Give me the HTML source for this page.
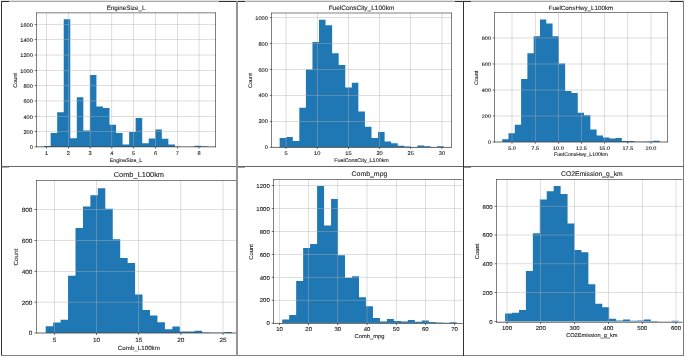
<!DOCTYPE html>
<html><head><meta charset="utf-8"><style>
html,body{margin:0;padding:0;background:#fff;}
svg{display:block;font-family:"Liberation Sans", sans-serif;text-rendering:geometricPrecision;}
</style></head><body>
<svg width="685" height="357" viewBox="0 0 685 357">
<rect width="685" height="357" fill="#fff"/>
<clipPath id="c0"><rect x="24.4" y="0" width="193.29999999999998" height="357"/></clipPath>
<g clip-path="url(#c0)"><path d="M44.10,146.90 L44.10,145.90 L50.64,145.90 L50.64,133.12 L57.18,133.12 L57.18,112.22 L63.72,112.22 L63.72,19.35 L70.26,19.35 L70.26,138.17 L76.80,138.17 L76.80,97.37 L83.34,97.37 L83.34,130.59 L89.88,130.59 L89.88,74.93 L96.42,74.93 L96.42,106.48 L102.96,106.48 L102.96,107.93 L109.50,107.93 L109.50,124.85 L116.04,124.85 L116.04,133.12 L122.58,133.12 L122.58,144.53 L129.12,144.53 L129.12,131.89 L135.66,131.89 L135.66,118.04 L142.20,118.04 L142.20,143.23 L148.74,143.23 L148.74,138.40 L155.28,138.40 L155.28,129.44 L161.82,129.44 L161.82,138.71 L168.36,138.71 L168.36,144.53 L174.90,144.53 L174.90,146.82 L181.44,146.82 L181.44,146.90 L187.98,146.90 L187.98,146.90 L194.52,146.90 L194.52,145.75 L201.06,145.75 L201.06,146.44 L207.60,146.44 L207.60,146.90 Z" fill="#1f77b4"/><rect x="36.40" y="146.69" width="179.30" height="0.42" fill="#b0b0b0"/><rect x="36.40" y="131.38" width="179.30" height="0.42" fill="#b0b0b0"/><rect x="36.40" y="116.07" width="179.30" height="0.42" fill="#b0b0b0"/><rect x="36.40" y="100.75" width="179.30" height="0.42" fill="#b0b0b0"/><rect x="36.40" y="85.44" width="179.30" height="0.42" fill="#b0b0b0"/><rect x="36.40" y="70.13" width="179.30" height="0.42" fill="#b0b0b0"/><rect x="36.40" y="54.82" width="179.30" height="0.42" fill="#b0b0b0"/><rect x="36.40" y="39.51" width="179.30" height="0.42" fill="#b0b0b0"/><rect x="36.40" y="24.19" width="179.30" height="0.42" fill="#b0b0b0"/><rect x="46.29" y="12.90" width="0.42" height="134.00" fill="#b0b0b0"/><rect x="68.08" y="12.90" width="0.42" height="134.00" fill="#b0b0b0"/><rect x="89.87" y="12.90" width="0.42" height="134.00" fill="#b0b0b0"/><rect x="111.66" y="12.90" width="0.42" height="134.00" fill="#b0b0b0"/><rect x="133.45" y="12.90" width="0.42" height="134.00" fill="#b0b0b0"/><rect x="155.24" y="12.90" width="0.42" height="134.00" fill="#b0b0b0"/><rect x="177.03" y="12.90" width="0.42" height="134.00" fill="#b0b0b0"/><rect x="198.82" y="12.90" width="0.42" height="134.00" fill="#b0b0b0"/><rect x="36.15" y="12.65" width="0.50" height="134.50" fill="#000"/><rect x="215.45" y="12.65" width="0.50" height="134.50" fill="#000"/><rect x="36.15" y="12.65" width="179.80" height="0.50" fill="#000"/><rect x="36.15" y="146.65" width="179.80" height="0.50" fill="#000"/><rect x="34.67" y="146.62" width="1.73" height="0.55" fill="#000"/><rect x="34.67" y="131.31" width="1.73" height="0.55" fill="#000"/><rect x="34.67" y="116.00" width="1.73" height="0.55" fill="#000"/><rect x="34.67" y="100.69" width="1.73" height="0.55" fill="#000"/><rect x="34.67" y="85.38" width="1.73" height="0.55" fill="#000"/><rect x="34.67" y="70.06" width="1.73" height="0.55" fill="#000"/><rect x="34.67" y="54.75" width="1.73" height="0.55" fill="#000"/><rect x="34.67" y="39.44" width="1.73" height="0.55" fill="#000"/><rect x="34.67" y="24.13" width="1.73" height="0.55" fill="#000"/><rect x="46.23" y="146.90" width="0.55" height="1.73" fill="#000"/><rect x="68.01" y="146.90" width="0.55" height="1.73" fill="#000"/><rect x="89.80" y="146.90" width="0.55" height="1.73" fill="#000"/><rect x="111.59" y="146.90" width="0.55" height="1.73" fill="#000"/><rect x="133.38" y="146.90" width="0.55" height="1.73" fill="#000"/><rect x="155.17" y="146.90" width="0.55" height="1.73" fill="#000"/><rect x="176.97" y="146.90" width="0.55" height="1.73" fill="#000"/><rect x="198.75" y="146.90" width="0.55" height="1.73" fill="#000"/></g>
<g fill="#1a1a1a" stroke="#1a1a1a" stroke-width="0.1" style="filter:grayscale(1)"><text x="32.89" y="149.13" text-anchor="end" font-size="5.24" textLength="3.15" lengthAdjust="spacingAndGlyphs">0</text><text x="32.89" y="133.82" text-anchor="end" font-size="5.24" textLength="9.44" lengthAdjust="spacingAndGlyphs">200</text><text x="32.89" y="118.51" text-anchor="end" font-size="5.24" textLength="9.44" lengthAdjust="spacingAndGlyphs">400</text><text x="32.89" y="103.19" text-anchor="end" font-size="5.24" textLength="9.44" lengthAdjust="spacingAndGlyphs">600</text><text x="32.89" y="87.88" text-anchor="end" font-size="5.24" textLength="9.44" lengthAdjust="spacingAndGlyphs">800</text><text x="32.89" y="72.57" text-anchor="end" font-size="5.24" textLength="12.59" lengthAdjust="spacingAndGlyphs">1000</text><text x="32.89" y="57.26" text-anchor="end" font-size="5.24" textLength="12.59" lengthAdjust="spacingAndGlyphs">1200</text><text x="32.89" y="41.95" text-anchor="end" font-size="5.24" textLength="12.59" lengthAdjust="spacingAndGlyphs">1400</text><text x="32.89" y="26.63" text-anchor="end" font-size="5.24" textLength="12.59" lengthAdjust="spacingAndGlyphs">1600</text><text x="46.50" y="154.81" text-anchor="middle" font-size="5.24" textLength="3.15" lengthAdjust="spacingAndGlyphs">1</text><text x="68.29" y="154.81" text-anchor="middle" font-size="5.24" textLength="3.15" lengthAdjust="spacingAndGlyphs">2</text><text x="90.08" y="154.81" text-anchor="middle" font-size="5.24" textLength="3.15" lengthAdjust="spacingAndGlyphs">3</text><text x="111.87" y="154.81" text-anchor="middle" font-size="5.24" textLength="3.15" lengthAdjust="spacingAndGlyphs">4</text><text x="133.66" y="154.81" text-anchor="middle" font-size="5.24" textLength="3.15" lengthAdjust="spacingAndGlyphs">5</text><text x="155.45" y="154.81" text-anchor="middle" font-size="5.24" textLength="3.15" lengthAdjust="spacingAndGlyphs">6</text><text x="177.24" y="154.81" text-anchor="middle" font-size="5.24" textLength="3.15" lengthAdjust="spacingAndGlyphs">7</text><text x="199.03" y="154.81" text-anchor="middle" font-size="5.24" textLength="3.15" lengthAdjust="spacingAndGlyphs">8</text><text x="126.05" y="161.59" text-anchor="middle" font-size="5.24" textLength="32.33" lengthAdjust="spacingAndGlyphs">EngineSize_L</text><text x="126.05" y="10.23" text-anchor="middle" font-size="6.29" textLength="38.80" lengthAdjust="spacingAndGlyphs">EngineSize_L</text><g transform="translate(16.71,80.45) rotate(-90)"><text x="0.00" y="0.00" text-anchor="middle" font-size="5.24" textLength="14.69" lengthAdjust="spacingAndGlyphs">Count</text></g></g>
<clipPath id="c1"><rect x="259.5" y="0" width="194.0" height="357"/></clipPath>
<g clip-path="url(#c1)"><path d="M279.65,147.20 L279.65,137.98 L286.21,137.98 L286.21,137.07 L292.77,137.07 L292.77,140.96 L299.33,140.96 L299.33,107.84 L305.89,107.84 L305.89,69.52 L312.45,69.52 L312.45,42.11 L319.01,42.11 L319.01,19.64 L325.57,19.64 L325.57,25.22 L332.13,25.22 L332.13,53.28 L338.69,53.28 L338.69,65.10 L345.25,65.10 L345.25,87.45 L351.81,87.45 L351.81,82.64 L358.37,82.64 L358.37,111.61 L364.93,111.61 L364.93,126.81 L371.49,126.81 L371.49,137.98 L378.05,137.98 L378.05,132.00 L384.61,132.00 L384.61,141.48 L391.17,141.48 L391.17,143.30 L397.73,143.30 L397.73,145.77 L404.29,145.77 L404.29,146.55 L410.85,146.55 L410.85,147.07 L417.41,147.07 L417.41,145.51 L423.97,145.51 L423.97,146.16 L430.53,146.16 L430.53,147.07 L437.09,147.07 L437.09,146.29 L443.65,146.29 L443.65,147.20 Z" fill="#1f77b4"/><rect x="271.50" y="146.99" width="180.00" height="0.42" fill="#b0b0b0"/><rect x="271.50" y="121.01" width="180.00" height="0.42" fill="#b0b0b0"/><rect x="271.50" y="95.03" width="180.00" height="0.42" fill="#b0b0b0"/><rect x="271.50" y="69.05" width="180.00" height="0.42" fill="#b0b0b0"/><rect x="271.50" y="43.07" width="180.00" height="0.42" fill="#b0b0b0"/><rect x="271.50" y="17.09" width="180.00" height="0.42" fill="#b0b0b0"/><rect x="285.79" y="13.00" width="0.42" height="134.20" fill="#b0b0b0"/><rect x="316.99" y="13.00" width="0.42" height="134.20" fill="#b0b0b0"/><rect x="348.19" y="13.00" width="0.42" height="134.20" fill="#b0b0b0"/><rect x="379.39" y="13.00" width="0.42" height="134.20" fill="#b0b0b0"/><rect x="410.59" y="13.00" width="0.42" height="134.20" fill="#b0b0b0"/><rect x="441.79" y="13.00" width="0.42" height="134.20" fill="#b0b0b0"/><rect x="271.25" y="12.75" width="0.50" height="134.70" fill="#000"/><rect x="451.25" y="12.75" width="0.50" height="134.70" fill="#000"/><rect x="271.25" y="12.75" width="180.50" height="0.50" fill="#000"/><rect x="271.25" y="146.95" width="180.50" height="0.50" fill="#000"/><rect x="269.76" y="146.92" width="1.74" height="0.55" fill="#000"/><rect x="269.76" y="120.94" width="1.74" height="0.55" fill="#000"/><rect x="269.76" y="94.96" width="1.74" height="0.55" fill="#000"/><rect x="269.76" y="68.98" width="1.74" height="0.55" fill="#000"/><rect x="269.76" y="43.01" width="1.74" height="0.55" fill="#000"/><rect x="269.76" y="17.03" width="1.74" height="0.55" fill="#000"/><rect x="285.73" y="147.20" width="0.55" height="1.74" fill="#000"/><rect x="316.93" y="147.20" width="0.55" height="1.74" fill="#000"/><rect x="348.12" y="147.20" width="0.55" height="1.74" fill="#000"/><rect x="379.33" y="147.20" width="0.55" height="1.74" fill="#000"/><rect x="410.53" y="147.20" width="0.55" height="1.74" fill="#000"/><rect x="441.73" y="147.20" width="0.55" height="1.74" fill="#000"/></g>
<g fill="#1a1a1a" stroke="#1a1a1a" stroke-width="0.1" style="filter:grayscale(1)"><text x="267.96" y="149.44" text-anchor="end" font-size="5.28" textLength="3.17" lengthAdjust="spacingAndGlyphs">0</text><text x="267.96" y="123.46" text-anchor="end" font-size="5.28" textLength="9.51" lengthAdjust="spacingAndGlyphs">200</text><text x="267.96" y="97.48" text-anchor="end" font-size="5.28" textLength="9.51" lengthAdjust="spacingAndGlyphs">400</text><text x="267.96" y="71.50" text-anchor="end" font-size="5.28" textLength="9.51" lengthAdjust="spacingAndGlyphs">600</text><text x="267.96" y="45.52" text-anchor="end" font-size="5.28" textLength="9.51" lengthAdjust="spacingAndGlyphs">800</text><text x="267.96" y="19.54" text-anchor="end" font-size="5.28" textLength="12.68" lengthAdjust="spacingAndGlyphs">1000</text><text x="286.00" y="155.17" text-anchor="middle" font-size="5.28" textLength="3.17" lengthAdjust="spacingAndGlyphs">5</text><text x="317.20" y="155.17" text-anchor="middle" font-size="5.28" textLength="6.34" lengthAdjust="spacingAndGlyphs">10</text><text x="348.40" y="155.17" text-anchor="middle" font-size="5.28" textLength="6.34" lengthAdjust="spacingAndGlyphs">15</text><text x="379.60" y="155.17" text-anchor="middle" font-size="5.28" textLength="6.34" lengthAdjust="spacingAndGlyphs">20</text><text x="410.80" y="155.17" text-anchor="middle" font-size="5.28" textLength="6.34" lengthAdjust="spacingAndGlyphs">25</text><text x="442.00" y="155.17" text-anchor="middle" font-size="5.28" textLength="6.34" lengthAdjust="spacingAndGlyphs">30</text><text x="361.50" y="161.99" text-anchor="middle" font-size="5.28" textLength="54.75" lengthAdjust="spacingAndGlyphs">FuelConsCity_L100km</text><text x="361.50" y="10.31" text-anchor="middle" font-size="6.34" textLength="65.70" lengthAdjust="spacingAndGlyphs">FuelConsCity_L100km</text><g transform="translate(251.68,80.65) rotate(-90)"><text x="0.00" y="0.00" text-anchor="middle" font-size="5.28" textLength="14.79" lengthAdjust="spacingAndGlyphs">Count</text></g></g>
<clipPath id="c2"><rect x="482.4" y="0" width="187.10000000000002" height="357"/></clipPath>
<g clip-path="url(#c2)"><path d="M502.20,142.00 L502.20,139.14 L508.50,139.14 L508.50,133.29 L514.79,133.29 L514.79,124.71 L521.09,124.71 L521.09,78.95 L527.38,78.95 L527.38,53.34 L533.68,53.34 L533.68,36.18 L539.98,36.18 L539.98,19.54 L546.27,19.54 L546.27,23.57 L552.57,23.57 L552.57,36.18 L558.86,36.18 L558.86,63.61 L565.16,63.61 L565.16,90.91 L571.46,90.91 L571.46,93.12 L577.75,93.12 L577.75,112.75 L584.05,112.75 L584.05,115.35 L590.34,115.35 L590.34,129.52 L596.64,129.52 L596.64,135.50 L602.94,135.50 L602.94,137.45 L609.23,137.45 L609.23,138.62 L615.53,138.62 L615.53,137.97 L621.82,137.97 L621.82,141.09 L628.12,141.09 L628.12,141.09 L634.42,141.09 L634.42,141.74 L640.71,141.74 L640.71,141.87 L647.01,141.87 L647.01,141.61 L653.30,141.61 L653.30,140.83 L659.60,140.83 L659.60,142.00 Z" fill="#1f77b4"/><rect x="494.40" y="141.79" width="173.10" height="0.42" fill="#b0b0b0"/><rect x="494.40" y="115.79" width="173.10" height="0.42" fill="#b0b0b0"/><rect x="494.40" y="89.79" width="173.10" height="0.42" fill="#b0b0b0"/><rect x="494.40" y="63.79" width="173.10" height="0.42" fill="#b0b0b0"/><rect x="494.40" y="37.79" width="173.10" height="0.42" fill="#b0b0b0"/><rect x="511.79" y="12.60" width="0.42" height="129.40" fill="#b0b0b0"/><rect x="534.96" y="12.60" width="0.42" height="129.40" fill="#b0b0b0"/><rect x="558.12" y="12.60" width="0.42" height="129.40" fill="#b0b0b0"/><rect x="581.29" y="12.60" width="0.42" height="129.40" fill="#b0b0b0"/><rect x="604.46" y="12.60" width="0.42" height="129.40" fill="#b0b0b0"/><rect x="627.63" y="12.60" width="0.42" height="129.40" fill="#b0b0b0"/><rect x="650.79" y="12.60" width="0.42" height="129.40" fill="#b0b0b0"/><rect x="494.15" y="12.35" width="0.50" height="129.90" fill="#000"/><rect x="667.25" y="12.35" width="0.50" height="129.90" fill="#000"/><rect x="494.15" y="12.35" width="173.60" height="0.50" fill="#000"/><rect x="494.15" y="141.75" width="173.60" height="0.50" fill="#000"/><rect x="492.71" y="141.72" width="1.69" height="0.55" fill="#000"/><rect x="492.71" y="115.72" width="1.69" height="0.55" fill="#000"/><rect x="492.71" y="89.72" width="1.69" height="0.55" fill="#000"/><rect x="492.71" y="63.73" width="1.69" height="0.55" fill="#000"/><rect x="492.71" y="37.73" width="1.69" height="0.55" fill="#000"/><rect x="511.73" y="142.00" width="0.55" height="1.69" fill="#000"/><rect x="534.89" y="142.00" width="0.55" height="1.69" fill="#000"/><rect x="558.06" y="142.00" width="0.55" height="1.69" fill="#000"/><rect x="581.23" y="142.00" width="0.55" height="1.69" fill="#000"/><rect x="604.39" y="142.00" width="0.55" height="1.69" fill="#000"/><rect x="627.56" y="142.00" width="0.55" height="1.69" fill="#000"/><rect x="650.73" y="142.00" width="0.55" height="1.69" fill="#000"/></g>
<g fill="#1a1a1a" stroke="#1a1a1a" stroke-width="0.1" style="filter:grayscale(1)"><text x="490.98" y="144.18" text-anchor="end" font-size="5.11" textLength="3.06" lengthAdjust="spacingAndGlyphs">0</text><text x="490.98" y="118.18" text-anchor="end" font-size="5.11" textLength="9.19" lengthAdjust="spacingAndGlyphs">200</text><text x="490.98" y="92.18" text-anchor="end" font-size="5.11" textLength="9.19" lengthAdjust="spacingAndGlyphs">400</text><text x="490.98" y="66.18" text-anchor="end" font-size="5.11" textLength="9.19" lengthAdjust="spacingAndGlyphs">600</text><text x="490.98" y="40.18" text-anchor="end" font-size="5.11" textLength="9.19" lengthAdjust="spacingAndGlyphs">800</text><text x="512.00" y="149.71" text-anchor="middle" font-size="5.11" textLength="7.66" lengthAdjust="spacingAndGlyphs">5.0</text><text x="535.17" y="149.71" text-anchor="middle" font-size="5.11" textLength="7.66" lengthAdjust="spacingAndGlyphs">7.5</text><text x="558.34" y="149.71" text-anchor="middle" font-size="5.11" textLength="10.73" lengthAdjust="spacingAndGlyphs">10.0</text><text x="581.50" y="149.71" text-anchor="middle" font-size="5.11" textLength="10.73" lengthAdjust="spacingAndGlyphs">12.5</text><text x="604.67" y="149.71" text-anchor="middle" font-size="5.11" textLength="10.73" lengthAdjust="spacingAndGlyphs">15.0</text><text x="627.84" y="149.71" text-anchor="middle" font-size="5.11" textLength="10.73" lengthAdjust="spacingAndGlyphs">17.5</text><text x="651.00" y="149.71" text-anchor="middle" font-size="5.11" textLength="10.73" lengthAdjust="spacingAndGlyphs">20.0</text><text x="580.95" y="156.31" text-anchor="middle" font-size="5.11" textLength="53.92" lengthAdjust="spacingAndGlyphs">FuelConsHwy_L100km</text><text x="580.95" y="10.00" text-anchor="middle" font-size="6.13" textLength="64.70" lengthAdjust="spacingAndGlyphs">FuelConsHwy_L100km</text><g transform="translate(478.31,77.85) rotate(-90)"><text x="0.00" y="0.00" text-anchor="middle" font-size="5.11" textLength="14.31" lengthAdjust="spacingAndGlyphs">Count</text></g></g>
<clipPath id="c3"><rect x="24.450000000000003" y="0" width="211.55" height="357"/></clipPath>
<g clip-path="url(#c3)"><path d="M45.70,333.00 L45.70,326.36 L53.15,326.36 L53.15,322.49 L60.60,322.49 L60.60,319.71 L68.05,319.71 L68.05,275.83 L75.50,275.83 L75.50,227.94 L82.95,227.94 L82.95,206.46 L90.40,206.46 L90.40,195.34 L97.85,195.34 L97.85,188.23 L105.30,188.23 L105.30,208.63 L112.75,208.63 L112.75,239.22 L120.20,239.22 L120.20,258.07 L127.65,258.07 L127.65,263.01 L135.10,263.01 L135.10,294.38 L142.55,294.38 L142.55,309.98 L150.00,309.98 L150.00,315.39 L157.45,315.39 L157.45,322.19 L164.90,322.19 L164.90,329.14 L172.35,329.14 L172.35,326.51 L179.80,326.51 L179.80,331.61 L187.25,331.61 L187.25,331.61 L194.70,331.61 L194.70,330.84 L202.15,330.84 L202.15,332.38 L209.60,332.38 L209.60,332.85 L217.05,332.85 L217.05,332.85 L224.50,332.85 L224.50,331.92 L231.95,331.92 L231.95,333.00 Z" fill="#1f77b4"/><rect x="36.45" y="332.79" width="204.85" height="0.42" fill="#b0b0b0"/><rect x="36.45" y="301.89" width="204.85" height="0.42" fill="#b0b0b0"/><rect x="36.45" y="270.99" width="204.85" height="0.42" fill="#b0b0b0"/><rect x="36.45" y="240.09" width="204.85" height="0.42" fill="#b0b0b0"/><rect x="36.45" y="209.19" width="204.85" height="0.42" fill="#b0b0b0"/><rect x="54.29" y="180.40" width="0.42" height="152.60" fill="#b0b0b0"/><rect x="96.42" y="180.40" width="0.42" height="152.60" fill="#b0b0b0"/><rect x="138.54" y="180.40" width="0.42" height="152.60" fill="#b0b0b0"/><rect x="180.66" y="180.40" width="0.42" height="152.60" fill="#b0b0b0"/><rect x="222.79" y="180.40" width="0.42" height="152.60" fill="#b0b0b0"/><rect x="36.20" y="180.15" width="0.50" height="153.10" fill="#000"/><rect x="241.05" y="180.15" width="0.50" height="153.10" fill="#000"/><rect x="36.20" y="180.15" width="205.35" height="0.50" fill="#000"/><rect x="36.20" y="332.75" width="205.35" height="0.50" fill="#000"/><rect x="34.47" y="332.73" width="1.98" height="0.55" fill="#000"/><rect x="34.47" y="301.83" width="1.98" height="0.55" fill="#000"/><rect x="34.47" y="270.93" width="1.98" height="0.55" fill="#000"/><rect x="34.47" y="240.03" width="1.98" height="0.55" fill="#000"/><rect x="34.47" y="209.12" width="1.98" height="0.55" fill="#000"/><rect x="54.23" y="333.00" width="0.55" height="1.98" fill="#000"/><rect x="96.35" y="333.00" width="0.55" height="1.98" fill="#000"/><rect x="138.47" y="333.00" width="0.55" height="1.98" fill="#000"/><rect x="180.60" y="333.00" width="0.55" height="1.98" fill="#000"/><rect x="222.72" y="333.00" width="0.55" height="1.98" fill="#000"/></g>
<g fill="#1a1a1a" stroke="#1a1a1a" stroke-width="0.1" style="filter:grayscale(1)"><text x="32.44" y="335.48" text-anchor="end" font-size="5.99" textLength="3.59" lengthAdjust="spacingAndGlyphs">0</text><text x="32.44" y="304.58" text-anchor="end" font-size="5.99" textLength="10.78" lengthAdjust="spacingAndGlyphs">200</text><text x="32.44" y="273.68" text-anchor="end" font-size="5.99" textLength="10.78" lengthAdjust="spacingAndGlyphs">400</text><text x="32.44" y="242.78" text-anchor="end" font-size="5.99" textLength="10.78" lengthAdjust="spacingAndGlyphs">600</text><text x="32.44" y="211.88" text-anchor="end" font-size="5.99" textLength="10.78" lengthAdjust="spacingAndGlyphs">800</text><text x="54.50" y="342.04" text-anchor="middle" font-size="5.99" textLength="3.59" lengthAdjust="spacingAndGlyphs">5</text><text x="96.62" y="342.04" text-anchor="middle" font-size="5.99" textLength="7.19" lengthAdjust="spacingAndGlyphs">10</text><text x="138.75" y="342.04" text-anchor="middle" font-size="5.99" textLength="7.19" lengthAdjust="spacingAndGlyphs">15</text><text x="180.88" y="342.04" text-anchor="middle" font-size="5.99" textLength="7.19" lengthAdjust="spacingAndGlyphs">20</text><text x="223.00" y="342.04" text-anchor="middle" font-size="5.99" textLength="7.19" lengthAdjust="spacingAndGlyphs">25</text><text x="138.88" y="349.77" text-anchor="middle" font-size="5.99" textLength="42.00" lengthAdjust="spacingAndGlyphs">Comb_L100km</text><text x="138.88" y="176.75" text-anchor="middle" font-size="7.18" textLength="50.40" lengthAdjust="spacingAndGlyphs">Comb_L100km</text><g transform="translate(17.59,257.25) rotate(-90)"><text x="0.00" y="0.00" text-anchor="middle" font-size="5.99" textLength="16.77" lengthAdjust="spacingAndGlyphs">Count</text></g></g>
<clipPath id="c4"><rect x="261.5" y="0" width="201.0" height="357"/></clipPath>
<g clip-path="url(#c4)"><path d="M282.20,323.10 L282.20,319.54 L289.18,319.54 L289.18,314.95 L296.16,314.95 L296.16,281.08 L303.14,281.08 L303.14,247.91 L310.12,247.91 L310.12,244.00 L317.10,244.00 L317.10,185.91 L324.08,185.91 L324.08,225.41 L331.06,225.41 L331.06,199.12 L338.04,199.12 L338.04,255.14 L345.02,255.14 L345.02,277.75 L352.00,277.75 L352.00,276.26 L358.98,276.26 L358.98,297.27 L365.96,297.27 L365.96,306.22 L372.94,306.22 L372.94,317.93 L379.92,317.93 L379.92,321.38 L386.90,321.38 L386.90,318.97 L393.88,318.97 L393.88,320.92 L400.86,320.92 L400.86,321.61 L407.84,321.61 L407.84,320.12 L414.82,320.12 L414.82,321.84 L421.80,321.84 L421.80,320.57 L428.78,320.57 L428.78,322.07 L435.76,322.07 L435.76,322.53 L442.74,322.53 L442.74,322.64 L449.72,322.64 L449.72,322.18 L456.70,322.18 L456.70,323.10 Z" fill="#1f77b4"/><rect x="273.50" y="322.89" width="191.90" height="0.42" fill="#b0b0b0"/><rect x="273.50" y="299.93" width="191.90" height="0.42" fill="#b0b0b0"/><rect x="273.50" y="276.97" width="191.90" height="0.42" fill="#b0b0b0"/><rect x="273.50" y="254.01" width="191.90" height="0.42" fill="#b0b0b0"/><rect x="273.50" y="231.05" width="191.90" height="0.42" fill="#b0b0b0"/><rect x="273.50" y="208.09" width="191.90" height="0.42" fill="#b0b0b0"/><rect x="273.50" y="185.13" width="191.90" height="0.42" fill="#b0b0b0"/><rect x="279.29" y="179.50" width="0.42" height="143.80" fill="#b0b0b0"/><rect x="308.46" y="179.50" width="0.42" height="143.80" fill="#b0b0b0"/><rect x="337.63" y="179.50" width="0.42" height="143.80" fill="#b0b0b0"/><rect x="366.80" y="179.50" width="0.42" height="143.80" fill="#b0b0b0"/><rect x="395.97" y="179.50" width="0.42" height="143.80" fill="#b0b0b0"/><rect x="425.14" y="179.50" width="0.42" height="143.80" fill="#b0b0b0"/><rect x="454.31" y="179.50" width="0.42" height="143.80" fill="#b0b0b0"/><rect x="273.25" y="179.25" width="0.50" height="144.30" fill="#000"/><rect x="465.15" y="179.25" width="0.50" height="144.30" fill="#000"/><rect x="273.25" y="179.25" width="192.40" height="0.50" fill="#000"/><rect x="273.25" y="323.05" width="192.40" height="0.50" fill="#000"/><rect x="271.66" y="322.83" width="1.84" height="0.55" fill="#000"/><rect x="271.66" y="299.87" width="1.84" height="0.55" fill="#000"/><rect x="271.66" y="276.91" width="1.84" height="0.55" fill="#000"/><rect x="271.66" y="253.95" width="1.84" height="0.55" fill="#000"/><rect x="271.66" y="230.99" width="1.84" height="0.55" fill="#000"/><rect x="271.66" y="208.03" width="1.84" height="0.55" fill="#000"/><rect x="271.66" y="185.07" width="1.84" height="0.55" fill="#000"/><rect x="279.23" y="323.30" width="0.55" height="1.84" fill="#000"/><rect x="308.40" y="323.30" width="0.55" height="1.84" fill="#000"/><rect x="337.56" y="323.30" width="0.55" height="1.84" fill="#000"/><rect x="366.74" y="323.30" width="0.55" height="1.84" fill="#000"/><rect x="395.91" y="323.30" width="0.55" height="1.84" fill="#000"/><rect x="425.08" y="323.30" width="0.55" height="1.84" fill="#000"/><rect x="454.25" y="323.30" width="0.55" height="1.84" fill="#000"/></g>
<g fill="#1a1a1a" stroke="#1a1a1a" stroke-width="0.1" style="filter:grayscale(1)"><text x="269.76" y="325.45" text-anchor="end" font-size="5.58" textLength="3.35" lengthAdjust="spacingAndGlyphs">0</text><text x="269.76" y="302.49" text-anchor="end" font-size="5.58" textLength="10.06" lengthAdjust="spacingAndGlyphs">200</text><text x="269.76" y="279.53" text-anchor="end" font-size="5.58" textLength="10.06" lengthAdjust="spacingAndGlyphs">400</text><text x="269.76" y="256.57" text-anchor="end" font-size="5.58" textLength="10.06" lengthAdjust="spacingAndGlyphs">600</text><text x="269.76" y="233.61" text-anchor="end" font-size="5.58" textLength="10.06" lengthAdjust="spacingAndGlyphs">800</text><text x="269.76" y="210.65" text-anchor="end" font-size="5.58" textLength="13.41" lengthAdjust="spacingAndGlyphs">1000</text><text x="269.76" y="187.69" text-anchor="end" font-size="5.58" textLength="13.41" lengthAdjust="spacingAndGlyphs">1200</text><text x="279.50" y="331.03" text-anchor="middle" font-size="5.58" textLength="6.70" lengthAdjust="spacingAndGlyphs">10</text><text x="308.67" y="331.03" text-anchor="middle" font-size="5.58" textLength="6.70" lengthAdjust="spacingAndGlyphs">20</text><text x="337.84" y="331.03" text-anchor="middle" font-size="5.58" textLength="6.70" lengthAdjust="spacingAndGlyphs">30</text><text x="367.01" y="331.03" text-anchor="middle" font-size="5.58" textLength="6.70" lengthAdjust="spacingAndGlyphs">40</text><text x="396.18" y="331.03" text-anchor="middle" font-size="5.58" textLength="6.70" lengthAdjust="spacingAndGlyphs">50</text><text x="425.35" y="331.03" text-anchor="middle" font-size="5.58" textLength="6.70" lengthAdjust="spacingAndGlyphs">60</text><text x="454.52" y="331.03" text-anchor="middle" font-size="5.58" textLength="6.70" lengthAdjust="spacingAndGlyphs">70</text><text x="369.45" y="338.25" text-anchor="middle" font-size="5.58" textLength="29.83" lengthAdjust="spacingAndGlyphs">Comb_mpg</text><text x="369.45" y="175.86" text-anchor="middle" font-size="6.70" textLength="35.80" lengthAdjust="spacingAndGlyphs">Comb_mpg</text><g transform="translate(252.53,251.95) rotate(-90)"><text x="0.00" y="0.00" text-anchor="middle" font-size="5.58" textLength="15.64" lengthAdjust="spacingAndGlyphs">Count</text></g></g>
<clipPath id="c5"><rect x="484.4" y="0" width="198.10000000000002" height="357"/></clipPath>
<g clip-path="url(#c5)"><path d="M505.10,321.60 L505.10,313.52 L512.04,313.52 L512.04,312.80 L518.98,312.80 L518.98,310.06 L525.92,310.06 L525.92,271.10 L532.86,271.10 L532.86,233.29 L539.80,233.29 L539.80,199.52 L546.74,199.52 L546.74,191.30 L553.68,191.30 L553.68,185.96 L560.62,185.96 L560.62,194.04 L567.56,194.04 L567.56,223.48 L574.50,223.48 L574.50,250.03 L581.44,250.03 L581.44,252.19 L588.38,252.19 L588.38,284.23 L595.32,284.23 L595.32,303.71 L602.26,303.71 L602.26,307.17 L609.20,307.17 L609.20,318.86 L616.14,318.86 L616.14,320.59 L623.08,320.59 L623.08,319.44 L630.02,319.44 L630.02,320.73 L636.96,320.73 L636.96,320.59 L643.90,320.59 L643.90,319.44 L650.84,319.44 L650.84,320.88 L657.78,320.88 L657.78,321.60 L664.72,321.60 L664.72,321.46 L671.66,321.46 L671.66,320.73 L678.60,320.73 L678.60,321.60 Z" fill="#1f77b4"/><rect x="496.40" y="321.39" width="190.90" height="0.42" fill="#b0b0b0"/><rect x="496.40" y="292.53" width="190.90" height="0.42" fill="#b0b0b0"/><rect x="496.40" y="263.67" width="190.90" height="0.42" fill="#b0b0b0"/><rect x="496.40" y="234.81" width="190.90" height="0.42" fill="#b0b0b0"/><rect x="496.40" y="205.95" width="190.90" height="0.42" fill="#b0b0b0"/><rect x="506.79" y="179.40" width="0.42" height="142.80" fill="#b0b0b0"/><rect x="540.59" y="179.40" width="0.42" height="142.80" fill="#b0b0b0"/><rect x="574.39" y="179.40" width="0.42" height="142.80" fill="#b0b0b0"/><rect x="608.19" y="179.40" width="0.42" height="142.80" fill="#b0b0b0"/><rect x="641.99" y="179.40" width="0.42" height="142.80" fill="#b0b0b0"/><rect x="675.79" y="179.40" width="0.42" height="142.80" fill="#b0b0b0"/><rect x="496.15" y="179.15" width="0.50" height="143.30" fill="#000"/><rect x="687.05" y="179.15" width="0.50" height="143.30" fill="#000"/><rect x="496.15" y="179.15" width="191.40" height="0.50" fill="#000"/><rect x="496.15" y="321.95" width="191.40" height="0.50" fill="#000"/><rect x="494.56" y="321.33" width="1.84" height="0.55" fill="#000"/><rect x="494.56" y="292.47" width="1.84" height="0.55" fill="#000"/><rect x="494.56" y="263.61" width="1.84" height="0.55" fill="#000"/><rect x="494.56" y="234.75" width="1.84" height="0.55" fill="#000"/><rect x="494.56" y="205.89" width="1.84" height="0.55" fill="#000"/><rect x="506.73" y="322.20" width="0.55" height="1.84" fill="#000"/><rect x="540.52" y="322.20" width="0.55" height="1.84" fill="#000"/><rect x="574.33" y="322.20" width="0.55" height="1.84" fill="#000"/><rect x="608.12" y="322.20" width="0.55" height="1.84" fill="#000"/><rect x="641.93" y="322.20" width="0.55" height="1.84" fill="#000"/><rect x="675.73" y="322.20" width="0.55" height="1.84" fill="#000"/></g>
<g fill="#1a1a1a" stroke="#1a1a1a" stroke-width="0.1" style="filter:grayscale(1)"><text x="492.67" y="323.94" text-anchor="end" font-size="5.58" textLength="3.35" lengthAdjust="spacingAndGlyphs">0</text><text x="492.67" y="295.08" text-anchor="end" font-size="5.58" textLength="10.04" lengthAdjust="spacingAndGlyphs">200</text><text x="492.67" y="266.22" text-anchor="end" font-size="5.58" textLength="10.04" lengthAdjust="spacingAndGlyphs">400</text><text x="492.67" y="237.36" text-anchor="end" font-size="5.58" textLength="10.04" lengthAdjust="spacingAndGlyphs">600</text><text x="492.67" y="208.50" text-anchor="end" font-size="5.58" textLength="10.04" lengthAdjust="spacingAndGlyphs">800</text><text x="507.00" y="329.92" text-anchor="middle" font-size="5.58" textLength="10.04" lengthAdjust="spacingAndGlyphs">100</text><text x="540.80" y="329.92" text-anchor="middle" font-size="5.58" textLength="10.04" lengthAdjust="spacingAndGlyphs">200</text><text x="574.60" y="329.92" text-anchor="middle" font-size="5.58" textLength="10.04" lengthAdjust="spacingAndGlyphs">300</text><text x="608.40" y="329.92" text-anchor="middle" font-size="5.58" textLength="10.04" lengthAdjust="spacingAndGlyphs">400</text><text x="642.20" y="329.92" text-anchor="middle" font-size="5.58" textLength="10.04" lengthAdjust="spacingAndGlyphs">500</text><text x="676.00" y="329.92" text-anchor="middle" font-size="5.58" textLength="10.04" lengthAdjust="spacingAndGlyphs">600</text><text x="591.85" y="337.12" text-anchor="middle" font-size="5.58" textLength="51.33" lengthAdjust="spacingAndGlyphs">CO2Emission_g_km</text><text x="591.85" y="175.86" text-anchor="middle" font-size="6.69" textLength="61.60" lengthAdjust="spacingAndGlyphs">CO2Emission_g_km</text><g transform="translate(478.83,251.35) rotate(-90)"><text x="0.00" y="0.00" text-anchor="middle" font-size="5.58" textLength="15.62" lengthAdjust="spacingAndGlyphs">Count</text></g></g>
<rect x="1" y="0" width="684" height="1" fill="#e4e4e4"/>
<rect x="1" y="1" width="683" height="1" fill="#a8a8a8"/>
<rect x="1" y="1" width="8" height="1" fill="#2e2e2e"/>
<rect x="219" y="1" width="26" height="1" fill="#2e2e2e"/>
<rect x="455" y="1" width="16" height="1" fill="#2e2e2e"/>
<rect x="670" y="1" width="14" height="1" fill="#2e2e2e"/>
<rect x="1" y="1" width="1" height="355" fill="#333"/>
<rect x="683" y="1" width="1" height="355" fill="#7a7a7a"/>
<rect x="1" y="355" width="683" height="1" fill="#808080"/>
<rect x="1" y="166" width="683" height="1" fill="#666"/>
<rect x="2" y="167" width="7" height="1" fill="#b0b0b0"/>
<rect x="238" y="167" width="7" height="1" fill="#a0a0a0"/>
<rect x="464" y="167" width="7" height="1" fill="#909090"/>
<rect x="236" y="1" width="2" height="355" fill="#959595"/>
<rect x="463" y="1" width="1" height="355" fill="#333"/>
</svg>
</body></html>
